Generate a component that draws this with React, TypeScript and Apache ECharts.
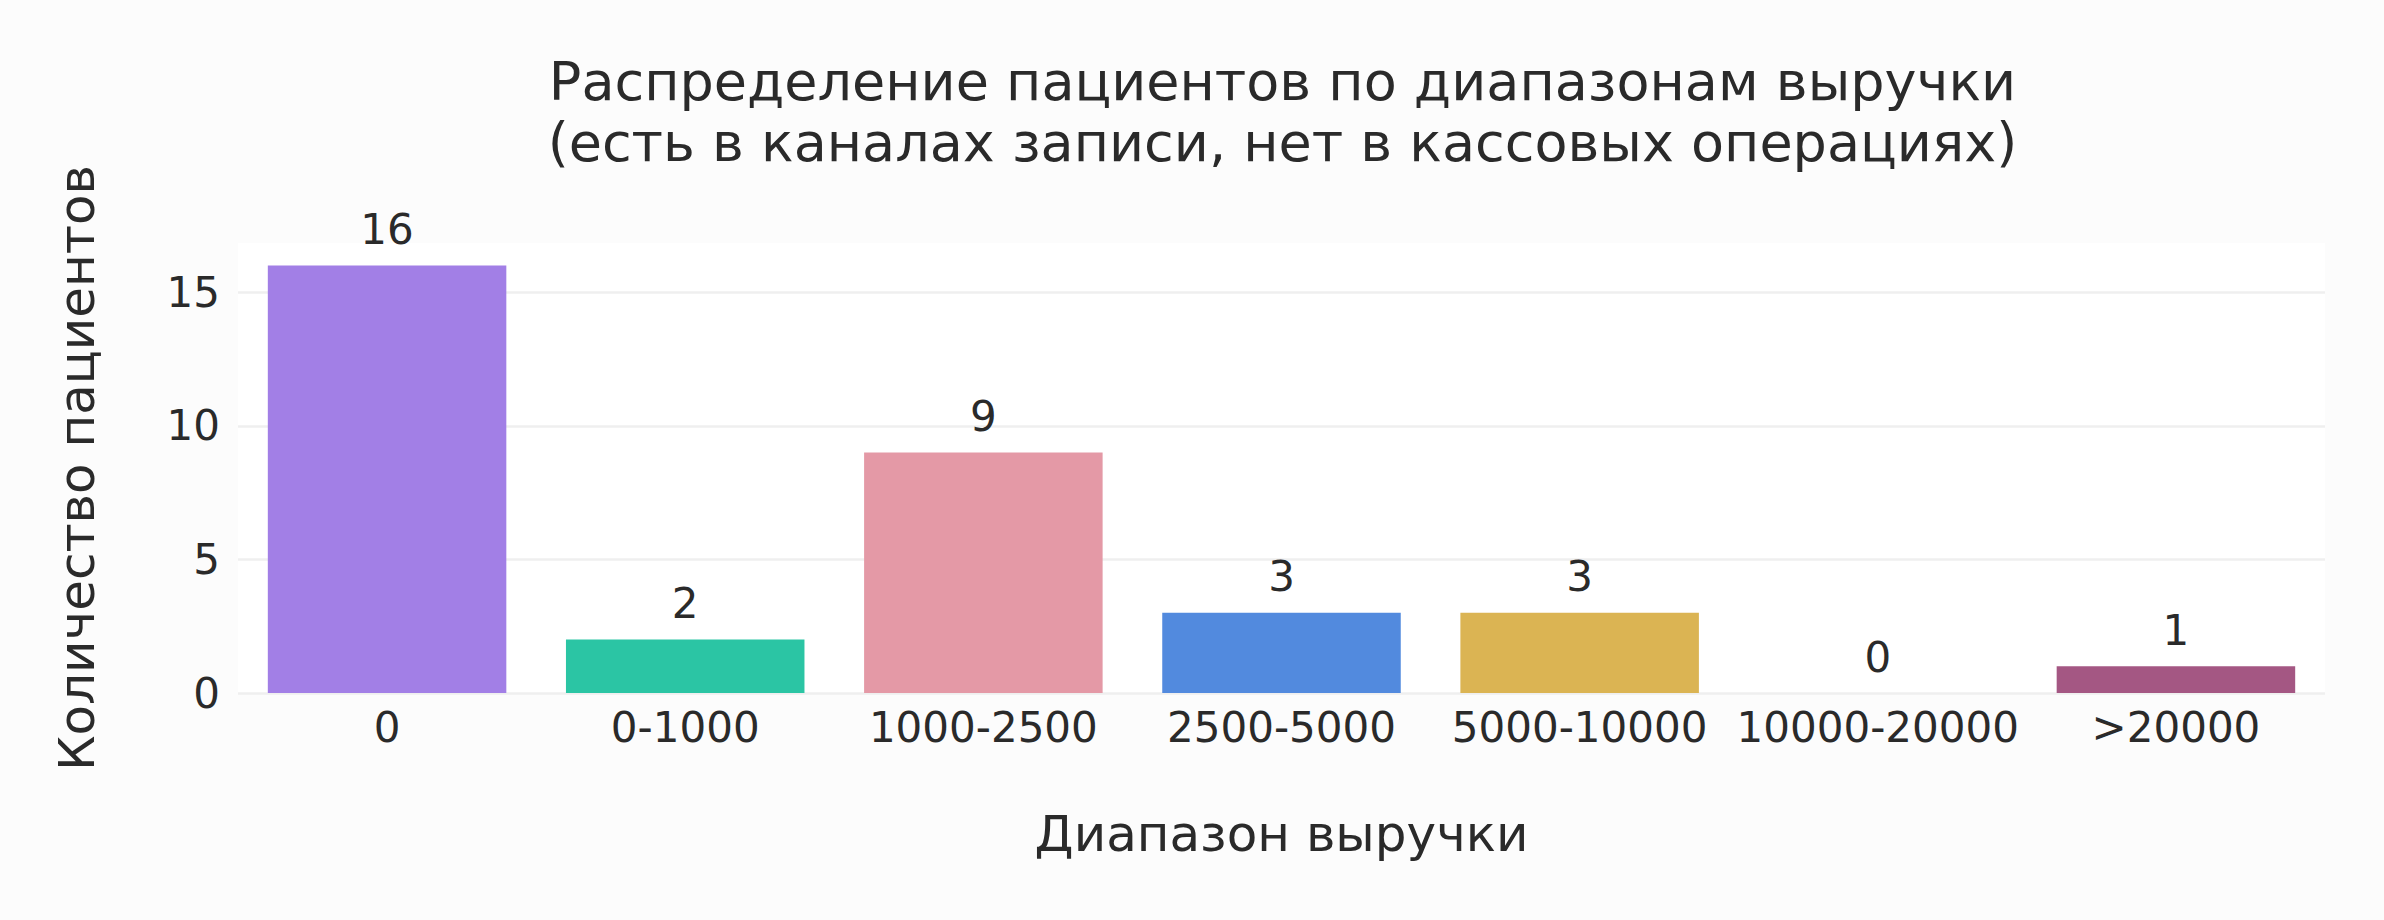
import React, { useEffect, useRef } from "react";
import * as echarts from "echarts";

const categories = ["0", "0-1000", "1000-2500", "2500-5000", "5000-10000", "10000-20000", ">20000"];
const patientCounts = [16, 2, 9, 3, 3, 0, 1];
const barColors = ["#a27fe6", "#2bc5a4", "#e499a6", "#528ade", "#dbb453", "#c07aa0", "#a45783"];
const yTicks = [0, 5, 10, 15];
const titleLines = [
  "Распределение пациентов по диапазонам выручки",
  "(есть в каналах записи, нет в кассовых операциях)",
];
const xAxisTitle = "Диапазон выручки";
const yAxisTitle = "Количество пациентов";
const yMax = 16.84;

const FONT = "DejaVu Sans";
const TEXT = "#2a2a2a";

export default function App() {
  const ref = useRef<HTMLDivElement>(null);
  useEffect(() => {
    if (!ref.current) return;
    const chart = echarts.init(ref.current, null, { renderer: "svg" });
    const gridLeft = 238;
    const gridRight = 2325;
    chart.setOption({
      animation: false,
      backgroundColor: "#fcfcfc",
      textStyle: { fontFamily: FONT },
      title: {
        text: titleLines.join("\n"),
        left: (gridLeft + gridRight) / 2 - 4,
        top: 46,
        textAlign: "center",
        textStyle: { fontFamily: FONT, fontSize: 54, fontWeight: "normal", color: TEXT, lineHeight: 61 },
      },
      grid: {
        left: gridLeft,
        right: 2384 - gridRight,
        top: 243,
        bottom: 920 - 693,
        show: true,
        backgroundColor: "#ffffff",
        borderWidth: 0,
      },
      xAxis: {
        type: "category",
        data: categories,
        name: xAxisTitle,
        nameLocation: "middle",
        nameGap: 116,
        nameTextStyle: { fontFamily: FONT, fontSize: 50, color: TEXT, verticalAlign: "top" },
        axisLine: { show: false },
        axisTick: { show: false },
        axisLabel: { fontFamily: FONT, fontSize: 42, color: TEXT, margin: 13, interval: 0 },
      },
      yAxis: {
        type: "value",
        min: 0,
        max: yMax,
        interval: 5,
        name: yAxisTitle,
        nameLocation: "middle",
        nameRotate: 90,
        nameGap: 136,
        nameTextStyle: { fontFamily: FONT, fontSize: 50, color: TEXT },
        axisLine: { show: false },
        axisTick: { show: false },
        axisLabel: {
          fontFamily: FONT,
          fontSize: 42,
          color: TEXT,
          margin: 18,
          formatter: (v: number) => (yTicks.includes(v) ? String(v) : ""),
        },
        splitLine: {
          show: true,
          lineStyle: { color: ["#efefef", "#efefef", "#efefef", "#efefef", "rgba(0,0,0,0)"], width: 2.5 },
        },
      },
      series: [
        {
          type: "bar",
          data: patientCounts.map((v, i) => ({ value: v, itemStyle: { color: barColors[i] } })),
          barCategoryGap: "20%",
          label: {
            show: true,
            position: "top",
            distance: 15,
            fontFamily: FONT,
            fontSize: 42,
            color: TEXT,
          },
        },
      ],
    });
    return () => chart.dispose();
  }, []);
  return (
    <div
      ref={ref}
      style={{ position: "absolute", left: 0, top: 0, width: 2384, height: 920 }}
    />
  );
}
